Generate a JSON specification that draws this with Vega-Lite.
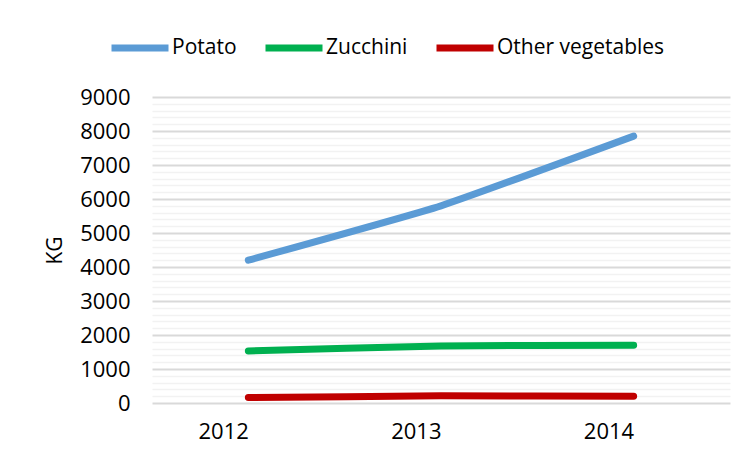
{
  "$schema": "https://vega.github.io/schema/vega-lite/v6.json",
  "width": 578,
  "height": 306,
  "autosize": {"type": "none"},
  "padding": {"left": 152, "top": 97, "right": 20, "bottom": 59},
  "background": "white",
  "config": {
    "view": {"stroke": null},
    "font": "Open Sans",
    "axis": {"labelFont": "Open Sans", "titleFont": "Open Sans"},
    "legend": {"labelFont": "Open Sans"}
  },
  "data": {
    "values": [
      {"year": "2012", "series": "Potato", "kg": 4200},
      {"year": "2013", "series": "Potato", "kg": 5800},
      {"year": "2014", "series": "Potato", "kg": 7850},
      {"year": "2012", "series": "Zucchini", "kg": 1530},
      {"year": "2013", "series": "Zucchini", "kg": 1680},
      {"year": "2014", "series": "Zucchini", "kg": 1700},
      {"year": "2012", "series": "Other vegetables", "kg": 160},
      {"year": "2013", "series": "Other vegetables", "kg": 210},
      {"year": "2014", "series": "Other vegetables", "kg": 200}
    ]
  },
  "resolve": {"scale": {"y": "shared"}, "axis": {"y": "independent"}},
  "layer": [
    {
      "mark": {"type": "line", "opacity": 0, "strokeWidth": 0},
      "encoding": {
        "x": {"field": "year", "type": "ordinal", "scale": {"type": "point", "padding": 0.5}},
        "y": {
          "field": "kg", "type": "quantitative",
          "scale": {"domain": [0, 9000], "nice": false},
          "axis": {
            "orient": "left",
            "values": [200, 400, 600, 800, 1200, 1400, 1600, 1800, 2200, 2400, 2600, 2800, 3200, 3400, 3600, 3800, 4200, 4400, 4600, 4800, 5200, 5400, 5600, 5800, 6200, 6400, 6600, 6800, 7200, 7400, 7600, 7800, 8200, 8400, 8600, 8800],
            "labels": false, "ticks": false, "domain": false, "title": null,
            "grid": true, "gridColor": "#f2f2f2", "gridWidth": 1.5
          }
        },
        "detail": {"field": "series"}
      }
    },
    {
      "mark": {"type": "line", "strokeWidth": 7, "strokeCap": "round", "interpolate": "cardinal", "tension": 0.6},
      "encoding": {
        "x": {
          "field": "year", "type": "ordinal",
          "scale": {"type": "point", "padding": 0.5},
          "axis": {
            "title": null, "domain": false, "ticks": false, "grid": false,
            "labelAngle": 0, "labelFontSize": 22, "labelColor": "#000000", "labelPadding": 28
          }
        },
        "y": {
          "field": "kg", "type": "quantitative",
          "scale": {"domain": [0, 9000], "nice": false},
          "axis": {
            "orient": "left", "format": "d",
            "values": [0, 1000, 2000, 3000, 4000, 5000, 6000, 7000, 8000, 9000],
            "title": "KG", "titleFontSize": 21, "titleFontWeight": "normal", "titleColor": "#000000", "titlePadding": 14,
            "labelFontSize": 22, "labelColor": "#000000", "labelPadding": 22,
            "ticks": false, "domain": false,
            "grid": true, "gridColor": "#d9d9d9", "gridWidth": 2
          }
        },
        "color": {
          "field": "series", "type": "nominal",
          "scale": {"domain": ["Potato", "Zucchini", "Other vegetables"], "range": ["#5b9bd5", "#00b050", "#c00000"]},
          "legend": {
            "title": null, "orient": "none", "direction": "horizontal",
            "legendX": -44, "legendY": -81,
            "symbolType": "stroke", "symbolSize": 3249, "symbolStrokeWidth": 7,
            "labelFontSize": 21, "labelColor": "#000000", "labelOffset": 0, "labelLimit": 0,
            "columnPadding": 14
          }
        }
      }
    }
  ]
}
